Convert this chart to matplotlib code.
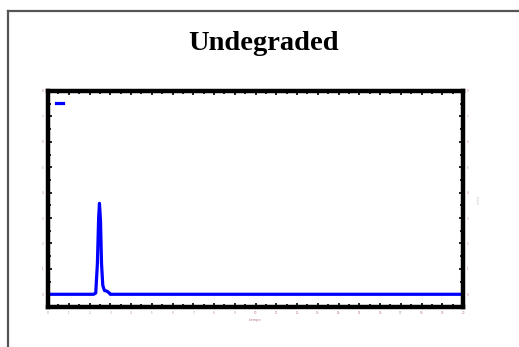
import matplotlib.pyplot as plt
from matplotlib.lines import Line2D
from matplotlib.ticker import MultipleLocator

# chromatogram trace
tiempo = [0, 2.0, 2.2, 2.3, 2.38, 2.44, 2.48, 2.53, 2.58, 2.64, 2.72, 2.85, 2.95, 3.0, 10, 20]
senal = [0, 0, 0, 0.05, 1.2, 3.0, 3.58, 2.9, 1.2, 0.35, 0.15, 0.12, 0.05, 0, 0, 0]

xticks = list(range(0, 21))
yticks = list(range(0, 9))

fig = plt.figure(figsize=(5.19, 3.47), dpi=100)

# marco exterior
fig.add_artist(Line2D([8 / 519, 8 / 519], [0, 1 - 11 / 347], color='#555555', lw=1.6))
fig.add_artist(Line2D([8 / 519, 1], [1 - 11 / 347, 1 - 11 / 347], color='#555555', lw=1.6))

fig.text(0.508, 1 - 44 / 347, 'Undegraded', ha='center', va='center',
         family='Liberation Serif', fontweight='bold', fontsize=20.5)

ax = fig.add_axes([48 / 519, 1 - 307 / 347, 415 / 519, 216 / 347])
linea, = ax.plot(tiempo, senal, color='#0000ff', lw=2.3)

ax.set_xlim(0, 20)
ax.set_ylim(-0.5, 8)
ax.set_xticks(xticks)
ax.set_yticks(yticks)
ax.xaxis.set_minor_locator(MultipleLocator(0.5))
ax.yaxis.set_minor_locator(MultipleLocator(0.5))

for s in ax.spines.values():
    s.set_linewidth(3.2)

ax.tick_params(which='both', direction='in', top=True, right=True, labelright=True,
               length=3, width=1.2, labelsize=2, labelcolor='#c08090', pad=3)
ax.tick_params(which='minor', length=2)

ax.set_xlabel('tiempo', fontsize=2.5, color='#b07090', labelpad=2)
ax.yaxis.set_label_position('right')
ax.set_ylabel('señal', fontsize=2.5, color='#cccccc', labelpad=6)

ax.legend([linea], [''], loc='upper left', frameon=False, handlelength=0.8,
          handletextpad=0, borderaxespad=0.35, borderpad=0.6, fontsize=6)

fig.savefig('out.png', dpi=100)
